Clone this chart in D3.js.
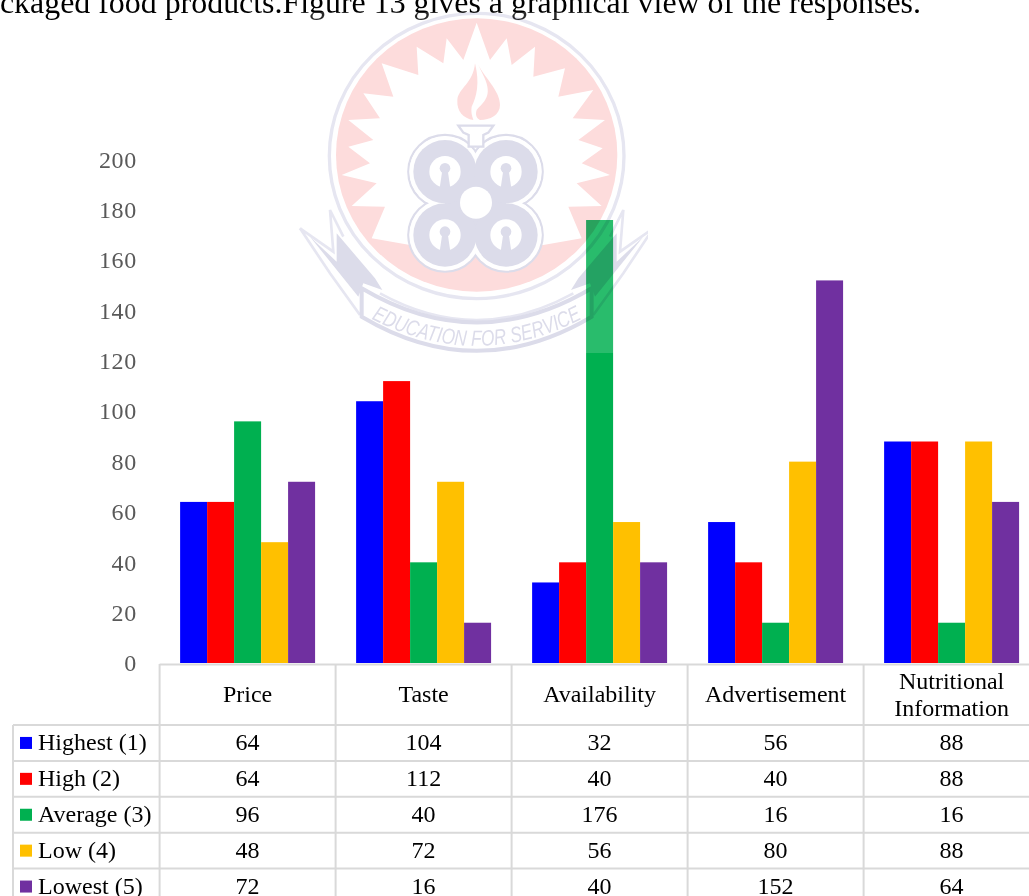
<!DOCTYPE html>
<html><head><meta charset="utf-8">
<script src="https://cdnjs.cloudflare.com/ajax/libs/d3/7.8.5/d3.min.js"></script>
<style>html,body{margin:0;padding:0;background:#fff;overflow:hidden}svg{display:block}text{font-family:"Liberation Serif",serif}</style>
</head><body><svg id="c" width="1029" height="896"></svg>
<script>
const categories=["Price","Taste","Availability","Advertisement","Nutritional Information"];
const categoryLines=[["Price"],["Taste"],["Availability"],["Advertisement"],["Nutritional","Information"]];
const seriesNames=["Highest (1)","High (2)","Average (3)","Low (4)","Lowest (5)"];
const seriesColors=["#0000ff","#ff0000","#00b050","#ffc000","#7030a0"];
const highest=[64,104,32,56,88];
const high=[64,112,40,40,88];
const average=[96,40,176,16,16];
const low=[48,72,56,80,88];
const lowest=[72,16,40,152,64];
const seriesValues=[highest,high,average,low,lowest];
const yTicks=[0,20,40,60,80,100,120,140,160,180,200];
const introText="ckaged food products.Figure 13 gives a graphical view of the responses.";

const svg=d3.select("#c");
const y=d3.scaleLinear().domain([0,200]).range([663,159.6]);
const x=d3.scaleBand().domain(categories).range([159.6,1039.6]);
const inner=d3.scaleBand().domain(seriesNames).range([0,x.bandwidth()]).paddingInner(0).paddingOuter(0.76);

svg.append("text").attr("x",921).attr("y",13).attr("text-anchor","end").attr("font-size",31.9).attr("fill","#000").text(introText);

const ax=svg.append("g").attr("transform","translate(137,0)").call(d3.axisLeft(y).tickValues(yTicks).tickSize(0).tickPadding(0));
ax.select(".domain").remove();
ax.selectAll("text").attr("font-size",24).attr("fill","#595959").style("font-family","'Liberation Serif',serif").style("letter-spacing","0.7px");

seriesNames.forEach((s,i)=>{
  svg.append("g").selectAll("rect").data(categories).join("rect")
    .attr("x",c=>x(c)+inner(s)).attr("width",inner.bandwidth())
    .attr("y",(c,j)=>y(seriesValues[i][j])).attr("height",(c,j)=>y(0)-y(seriesValues[i][j]))
    .attr("fill",seriesColors[i]);
});

// table
const rowY=d3.scalePoint().domain(d3.range(6)).range([725,904.5]);
const grid=svg.append("g").attr("stroke","#d9d9d9").attr("stroke-width",2);
grid.append("line").attr("x1",159.6).attr("x2",1029).attr("y1",664.5).attr("y2",664.5);
d3.range(6).forEach(r=>grid.append("line").attr("x1",13).attr("x2",1029).attr("y1",rowY(r)).attr("y2",rowY(r)));
grid.append("line").attr("x1",13).attr("x2",13).attr("y1",725).attr("y2",896);
categories.forEach(c=>grid.append("line").attr("x1",x(c)).attr("x2",x(c)).attr("y1",664).attr("y2",896));

const tableFont=24;
categories.forEach((c,i)=>{
  const cx=x(c)+x.bandwidth()/2, lines=categoryLines[i];
  lines.forEach((l,k)=>svg.append("text").attr("x",cx).attr("y",694+(k-(lines.length-1)/2)*27)
    .attr("dy","0.35em").attr("text-anchor","middle").attr("font-size",tableFont).attr("fill","#000").text(l));
  seriesValues.forEach((vals,r)=>svg.append("text").attr("x",cx).attr("y",(rowY(r)+rowY(r+1))/2-1)
    .attr("dy","0.35em").attr("text-anchor","middle").attr("font-size",tableFont).attr("fill","#000").text(vals[i]));
});
seriesNames.forEach((s,r)=>{
  const cy=(rowY(r)+rowY(r+1))/2;
  svg.append("rect").attr("x",20).attr("y",cy-6).attr("width",12).attr("height",12).attr("fill",seriesColors[r]);
  svg.append("text").attr("x",38).attr("y",cy-1).attr("dy","0.35em").attr("font-size",tableFont).attr("fill","#000").text(s);
});

// watermark (decorative image overlay)
const defs=svg.append("defs");
defs.append("clipPath").attr("id","wm").append("rect").attr("x",298).attr("y",0).attr("width",350).attr("height",353);
defs.append("filter").attr("id","soft").append("feGaussianBlur").attr("stdDeviation",1.6);
svg.append("rect").attr("x",298).attr("y",12).attr("width",350).attr("height",341).attr("fill","#fff").attr("opacity",0.16);
const wmOuter=svg.append("g").attr("clip-path","url(#wm)").style("mix-blend-mode","multiply");
const wm=wmOuter.append("g").attr("transform","translate(280,0) scale(0.33333)").attr("filter","url(#soft)");
const pink="#fddcdc", lav="#dcdcea", lav2="#e6e6f1";
wm.append("rect").attr("x",0).attr("y",0).attr("width",1200).attr("height",1100).attr("fill","#fff");
// ring
wm.append("ellipse").attr("cx",590).attr("cy",468).attr("rx",442).attr("ry",428).attr("fill","none").attr("stroke",lav2).attr("stroke-width",10);
wm.append("ellipse").attr("cx",590).attr("cy",465).attr("rx",422).attr("ry",410).attr("fill",pink);
const star=[[590,68],[630,180],[680,115],[695,195],[765,140],[760,230],[855,205],[835,290],[940,270],[878,355],[975,360],[895,420],[968,445],[905,490],[990,525],[890,550],[965,618],[865,620],[905,715],[790,735],[590,760],[390,735],[275,715],[315,620],[215,618],[290,550],[185,525],[270,490],[205,440],[280,420],[205,360],[300,355],[250,280],[340,290],[305,190],[415,225],[410,140],[490,190],[500,115],[550,180]];
wm.append("path").attr("d",d3.line()(star)+"Z").attr("fill","#fff");
// flame
wm.append("path").attr("d","M590,185 C610,230 660,270 660,315 C660,345 630,360 600,360 C590,355 585,345 590,330 C610,305 640,290 612,230 Z").attr("fill",pink);
wm.append("path").attr("d","M585,190 C600,250 590,290 575,320 C572,340 578,350 580,360 C550,355 530,335 532,300 C535,265 580,250 585,190 Z").attr("fill",pink);
// lobes
const lobes=[[495,515],[678,515],[495,705],[678,705]];
wm.append("g").selectAll("circle").data(lobes).join("circle").attr("cx",d=>d[0]).attr("cy",d=>d[1]).attr("r",110).attr("fill","none").attr("stroke",lav).attr("stroke-width",7);
wm.append("g").selectAll("circle").data(lobes).join("circle").attr("cx",d=>d[0]).attr("cy",d=>d[1]).attr("r",107).attr("fill","#fff");
wm.append("rect").attr("x",495).attr("y",515).attr("width",183).attr("height",190).attr("fill",lav);
wm.append("g").selectAll("circle").data(lobes).join("circle").attr("cx",d=>d[0]).attr("cy",d=>d[1]).attr("r",95).attr("fill",lav);
wm.append("circle").attr("cx",588).attr("cy",608).attr("r",48).attr("fill","#fff");
wm.append("g").selectAll("circle").data(lobes).join("circle").attr("cx",d=>d[0]).attr("cy",d=>d[1]).attr("r",47).attr("fill","#fff");
wm.append("g").selectAll("circle").data(lobes).join("circle").attr("cx",d=>d[0]).attr("cy",d=>d[1]-10).attr("r",16).attr("fill",lav);
wm.append("g").selectAll("path").data(lobes).join("path").attr("d",d=>`M${d[0]-8},${d[1]-5} L${d[0]+8},${d[1]-5} L${d[0]+16},${d[1]+50} L${d[0]-16},${d[1]+50} Z`).attr("fill",lav);
// neck
wm.append("path").attr("d","M535,377 L640,377 L625,398 L610,405 L610,440 L566,440 L566,405 L550,398 Z").attr("fill","#fff").attr("stroke",lav).attr("stroke-width",7);
// lower arcs
wm.append("path").attr("d","M300,880 Q590,1040 880,880").attr("fill","none").attr("stroke",lav2).attr("stroke-width",8);
// tails
const tailFill=[[90,710],[170,785],[170,700],[285,835],[307,870],[250,850],[235,890]];
const tailLine=[[60,685],[160,755],[150,630],[190,710]];
const tailLow=[[60,685],[150,820],[240,945]];
[a=>a,a=>1180-a].forEach(fx=>{
  wm.append("path").attr("d",d3.line()(tailFill.map(p=>[fx(p[0]),p[1]]))+"Z").attr("fill",lav);
  wm.append("path").attr("d",d3.line()(tailLine.map(p=>[fx(p[0]),p[1]]))).attr("fill","none").attr("stroke",lav2).attr("stroke-width",8);
  wm.append("path").attr("d",d3.line()(tailLow.map(p=>[fx(p[0]),p[1]]))).attr("fill","none").attr("stroke",lav2).attr("stroke-width",8);
});
// banner
wm.append("path").attr("d","M245,865 Q590,1070 935,865 L935,950 Q590,1155 245,950 Z").attr("fill","#fff").attr("stroke",lav).attr("stroke-width",12);
defs.append("path").attr("id","bannerArc").attr("d","M262,950 Q590,1125 918,950");
wm.append("text").attr("font-size",66).attr("fill",lav).attr("text-anchor","middle").style("font-family","'Liberation Sans',sans-serif").style("font-style","italic")
  .append("textPath").attr("href","#bannerArc").attr("startOffset","50%").attr("textLength",660).attr("lengthAdjust","spacingAndGlyphs").text("EDUCATION FOR SERVICE");
</script></body></html>
